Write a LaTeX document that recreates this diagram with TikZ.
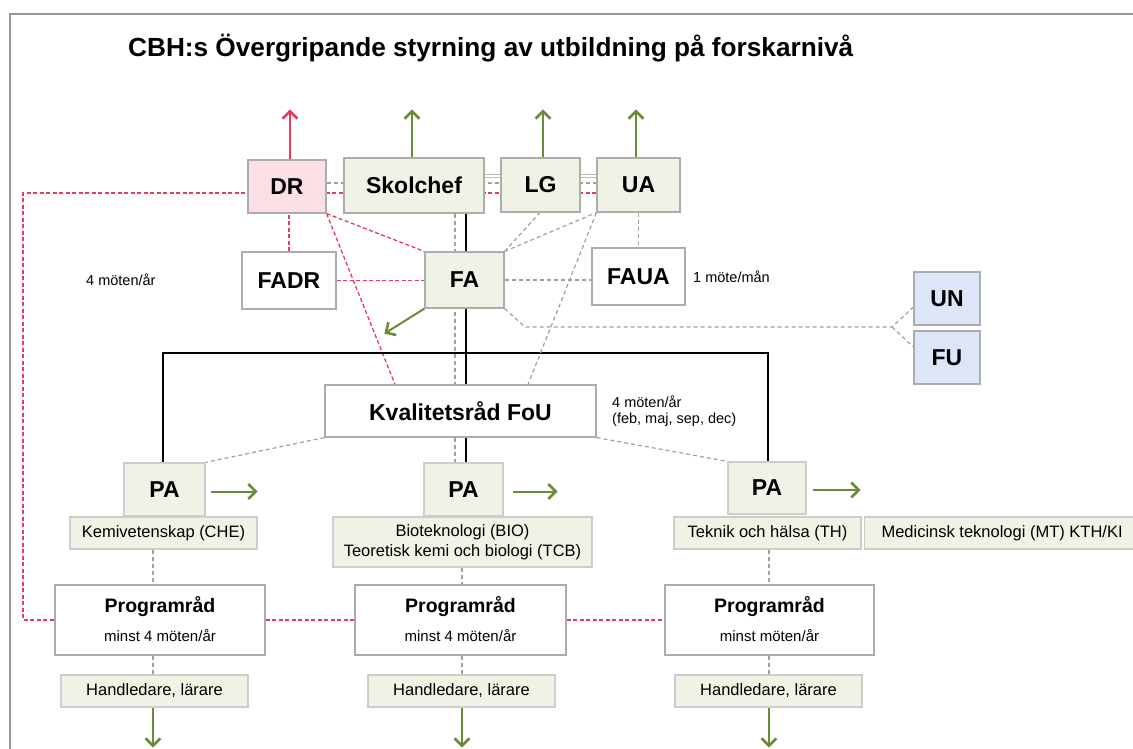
\documentclass[tikz,border=0pt]{standalone}
\usepackage{fontspec}
\setmainfont{Liberation Sans}
\usetikzlibrary{arrows.meta,backgrounds,calc}
\definecolor{pinkf}{RGB}{250,224,229}
\definecolor{greenf}{RGB}{239,243,229}
\definecolor{bluef}{RGB}{221,230,246}
\definecolor{boxline}{RGB}{172,172,172}
\definecolor{lblline}{RGB}{205,205,205}
\definecolor{dashg}{RGB}{160,160,160}
\definecolor{dblg}{RGB}{185,185,185}
\definecolor{redc}{RGB}{230,60,92}
\definecolor{greenc}{RGB}{104,140,58}
\definecolor{framec}{RGB}{150,150,150}
\begin{document}
\begin{tikzpicture}[x=1pt,y=-1pt,
  bx/.style={draw=boxline, line width=1.2pt, inner sep=0pt, align=center, font=\bfseries\fontsize{23}{27}\selectfont},
  lbl/.style={draw=lblline, line width=1.2pt, fill=greenf, inner sep=0pt, align=center, font=\fontsize{16.5}{20}\selectfont},
  gd/.style={draw=dashg, line width=1.2pt, dash pattern=on 4pt off 3pt},
  rd/.style={draw=redc, line width=1.3pt, dash pattern=on 4pt off 2.5pt},
  garr/.style={draw=greenc, line width=2pt, -{Straight Barb[length=7.5pt,width=15pt,line width=2.6pt]}},
  rarr/.style={draw=redc, line width=2pt, -{Straight Barb[length=7.5pt,width=15pt,line width=2.6pt]}},
  txt/.style={inner sep=0pt, font=\fontsize{14.5}{16}\selectfont},
  prt/.style={inner sep=0pt, font=\bfseries\fontsize{19.5}{22}\selectfont},
  prs/.style={inner sep=0pt, font=\fontsize{15}{18}\selectfont}
]
\useasboundingbox (0,0) rectangle (1133,749);
\clip (0,0) rectangle (1133,749);
\draw[framec, line width=1.5pt] (10,749) -- (10,14) -- (1133,14);

\node[anchor=west, inner sep=0pt, font=\bfseries\fontsize{26.2}{30}\selectfont] (title) at (128,48) {CBH:s Övergripande styrning av utbildning på forskarnivå};

% top row
\node[bx, fill=pinkf, minimum width=78pt, minimum height=53pt] (DR) at (287,186.5) {DR};
\node[bx, fill=greenf, minimum width=140pt, minimum height=55pt] (Sk) at (414,185.5) {Skolchef};
\node[bx, fill=greenf, minimum width=79pt, minimum height=54pt] (LG) at (540.5,185) {LG};
\node[bx, fill=greenf, minimum width=83pt, minimum height=54pt] (UA) at (638.5,185) {UA};
% second row
\node[bx, fill=white, minimum width=94pt, minimum height=57pt] (FADR) at (289,280.5) {FADR};
\node[bx, fill=greenf, minimum width=79pt, minimum height=56pt] (FA) at (464.5,280) {FA};
\node[bx, fill=white, minimum width=93pt, minimum height=57pt] (FAUA) at (638.5,276.5) {FAUA};
\node[bx, fill=bluef, minimum width=66pt, minimum height=53pt] (UN) at (947,298.5) {UN};
\node[bx, fill=bluef, minimum width=66pt, minimum height=53pt] (FU) at (947,357.5) {FU};
\node[txt, anchor=west] (m1) at (86,280) {4 möten/år};
\node[txt, anchor=west] (m2) at (693,277) {1 möte/mån};
% quality council
\node[bx, fill=white, minimum width=271pt, minimum height=52pt] (KFoU) at (460.5,411) {Kvalitetsråd FoU};
\node[txt, anchor=west, align=left, font=\fontsize{14.5}{15.5}\selectfont] (m3) at (612,411) {4 möten/år\\(feb, maj, sep, dec)};
% PA row
\node[bx, fill=greenf, draw=lblline, minimum width=81pt, minimum height=53pt] (PA1) at (164.5,489.5) {PA};
\node[bx, fill=greenf, draw=lblline, minimum width=79pt, minimum height=53pt] (PA2) at (463.5,489.5) {PA};
\node[bx, fill=greenf, draw=lblline, minimum width=78pt, minimum height=52pt] (PA3) at (767,488) {PA};
\node[lbl, minimum width=187pt, minimum height=32pt] (CHE) at (163.5,533) {Kemivetenskap (CHE)};
\node[lbl, minimum width=259pt, minimum height=50pt] (BIO) at (462.5,542) {Bioteknologi (BIO)\\Teoretisk kemi och biologi (TCB)};
\node[lbl, minimum width=187pt, minimum height=32pt] (TH) at (767.5,533) {Teknik och hälsa (TH)};
\node[lbl, minimum width=274pt, minimum height=32pt, anchor=west] (MT) at (864,533) {\hspace*{1pt}Medicinsk teknologi (MT) KTH/KI};
% program councils
\node[bx, fill=white, minimum width=210pt, minimum height=70pt] (Prog1) at (160,620) {};
\node[bx, fill=white, minimum width=211pt, minimum height=70pt] (Prog2) at (460.5,620) {};
\node[bx, fill=white, minimum width=209pt, minimum height=70pt] (Prog3) at (769.5,620) {};
\node[prt] (p1t) at (160,607) {Programråd};
\node[prs] (p1s) at (160,636) {minst 4 möten/år};
\node[prt] (p2t) at (460.5,607) {Programråd};
\node[prs] (p2s) at (460.5,636) {minst 4 möten/år};
\node[prt] (p3t) at (769.5,607) {Programråd};
\node[prs] (p3s) at (769.5,636) {minst möten/år};
\node[lbl, minimum width=187pt, minimum height=32pt] (H1) at (154.5,691) {Handledare, lärare};
\node[lbl, minimum width=187pt, minimum height=32pt] (H2) at (461.5,691) {Handledare, lärare};
\node[lbl, minimum width=187pt, minimum height=32pt] (H3) at (768.5,691) {Handledare, lärare};

% helper coordinates
\coordinate (ydbl) at (0,176);
\coordinate (ygd) at (0,183);
\coordinate (yrd) at (0,193);
\coordinate (xL) at (23,0);
\coordinate (xg) at (455,0);
\coordinate (xb) at (466,0);
\coordinate (xb1) at (163,0);
\coordinate (xb3) at (768,0);
\coordinate (yh) at (0,353);
\coordinate (xk1) at (395,0);
\coordinate (xk2) at (528,0);
\coordinate (xlg) at (540,0);
\coordinate (b1) at (525,327);
\coordinate (b2) at (892,327);
\coordinate (c1) at (153,0);
\coordinate (c2) at (462,0);
\coordinate (c3) at (769,0);

\begin{pgfonlayer}{background}
% arrows up
\draw[rarr] ([xshift=3pt]DR.north) -- ++(0,-50);
\draw[garr] ([xshift=-2pt]Sk.north) -- ++(0,-48);
\draw[garr] ([xshift=2.5pt]LG.north) -- ++(0,-48);
\draw[garr] ([xshift=-2.5pt]UA.north) -- ++(0,-48);
% top horizontal links
\draw[dblg, line width=1.1pt, double=white, double distance=1.6pt] (Sk.east |- ydbl) -- (UA.west |- ydbl);
\draw[gd] (DR.east |- ygd) -- (UA.west |- ygd);
\draw[rd] (UA.west |- yrd) -- (xL |- yrd) -- (xL |- Prog1.west) -- (Prog1.west);
\draw[rd] (Prog1.east) -- (Prog2.west);
\draw[rd] (Prog2.east) -- (Prog3.west);
% DR links
\draw[rd] (FADR.north) -- (FADR.north |- DR.south);
\draw[rd] (FADR.east) -- (FADR.east -| FA.west);
\draw[rd] (DR.south east) -- (FA.north west);
\draw[rd] (DR.south east) -- (xk1 |- KFoU.north);
% spine
\draw[gd] (Sk.south -| xg) -- (PA2.north -| xg);
\draw[black, line width=2pt] (Sk.south -| xb) -- (PA2.north -| xb);
\draw[black, line width=2pt] (PA1.north -| xb1) -- (xb1 |- yh) -- (xb3 |- yh) -- (PA3.north -| xb3);
% FA links
\draw[gd] (FA.north east) -- (LG.south -| xlg);
\draw[gd] (FA.north east) -- (UA.south west);
\draw[gd] (UA.south west) -- (KFoU.north -| xk2);
\draw[gd] (UA.south) -- (FAUA.north);
\draw[gd] (FA.east) -- (FA.east -| FAUA.west);
\draw[gd] (FA.south east) -- (b1) -- (b2) -- ([yshift=-8.5pt]UN.west);
\draw[gd] (b2) -- ([yshift=10.5pt]FU.west);
\draw[garr] (FA.south west) -- ++(-40,25);
% KFoU to PA
\draw[gd] (KFoU.south west) -- (PA1.north east);
\draw[gd] (KFoU.south east) -- (PA3.north west);
% PA arrows
\draw[garr] ([xshift=5pt,yshift=-2pt]PA1.east) -- ++(47,0);
\draw[garr] ([xshift=9pt,yshift=-2pt]PA2.east) -- ++(45,0);
\draw[garr] ([xshift=6pt,yshift=-2pt]PA3.east) -- ++(48,0);
% columns
\draw[gd] (CHE.south -| c1) -- (Prog1.north -| c1);
\draw[gd] (Prog1.south -| c1) -- (H1.north -| c1);
\draw[garr] (H1.south -| c1) -- ++(0,40);
\draw[gd] (BIO.south -| c2) -- (Prog2.north -| c2);
\draw[gd] (Prog2.south -| c2) -- (H2.north -| c2);
\draw[garr] (H2.south -| c2) -- ++(0,40);
\draw[gd] (TH.south -| c3) -- (Prog3.north -| c3);
\draw[gd] (Prog3.south -| c3) -- (H3.north -| c3);
\draw[garr] (H3.south -| c3) -- ++(0,40);
\end{pgfonlayer}
\end{tikzpicture}
\end{document}
